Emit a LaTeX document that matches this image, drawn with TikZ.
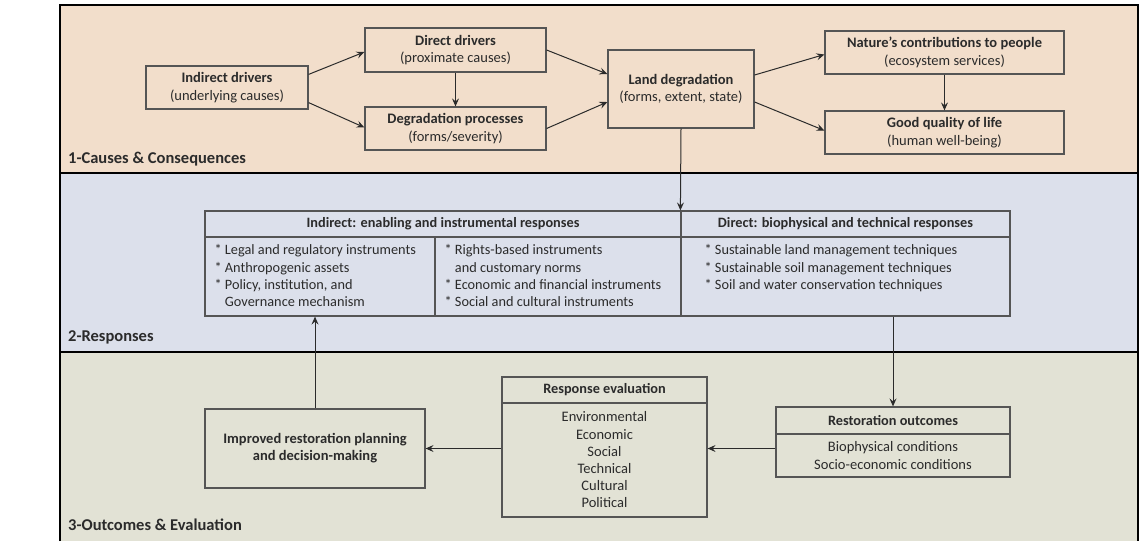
\documentclass[tikz,border=0pt]{standalone}
\usepackage{fontspec}
\setmainfont{Carlito}
\usetikzlibrary{arrows.meta}
\definecolor{peach}{HTML}{F2DECB}
\definecolor{bluegray}{HTML}{DCE0EB}
\definecolor{sage}{HTML}{E2E2D5}
\definecolor{boxline}{HTML}{555555}
\definecolor{ink}{HTML}{2B2B2B}
\begin{document}
\begin{tikzpicture}[x=1pt,y=-1pt,
  box/.style={draw=boxline,line width=1.2pt,text=ink,align=center,inner sep=0pt,font=\fontsize{14.5}{17.5}\selectfont},
  head/.style={box,font=\bfseries\fontsize{14.3}{16}\selectfont},
  list/.style={text=ink,align=left,inner sep=0pt,anchor=north west,font=\fontsize{14.3}{17.3}\selectfont},
  arr/.style={draw=ink,line width=1pt,-{Stealth[length=8pt,width=7pt,inset=3pt]}},
  band/.style={font=\bfseries\fontsize{16.5}{18}\selectfont,text=ink,anchor=west,inner sep=0pt}]
\path[use as bounding box] (0,0) rectangle (1148,541);
\fill[peach] (60,5) rectangle (1138,173);
\fill[bluegray] (60,173) rectangle (1138,352);
\fill[sage] (60,352) rectangle (1138,541);
\draw[line width=2.5pt] (60,541)--(60,5)--(1138,5)--(1138,541);
\draw[line width=2.5pt] (60,173)--(1138,173) (60,352)--(1138,352);
\node[band] (causes) at (68,159) {1-Causes \& Consequences};
\node[band] (responses) at (68,337) {2-Responses};
\node[band] (outcomes) at (68,525) {3-Outcomes \& Evaluation};
\node[box,minimum width=162,minimum height=43] (indirect) at (227,87.5) {\textbf{Indirect drivers}\\(underlying causes)};
\node[box,minimum width=181,minimum height=44] (direct) at (455.5,50) {\textbf{Direct drivers}\\(proximate causes)};
\node[box,minimum width=181,minimum height=43] (degr) at (455.5,128.5) {\textbf{Degradation processes}\\(forms/severity)};
\node[box,minimum width=146,minimum height=78] (land) at (681,89) {\textbf{Land degradation}\\(forms, extent, state)};
\node[box,minimum width=239,minimum height=43] (nature) at (944.5,52.5) {\textbf{Nature’s contributions to people}\\(ecosystem services)};
\node[box,minimum width=239,minimum height=43] (good) at (944.5,132.5) {\textbf{Good quality of life}\\(human well-being)};
\draw[arr] ([yshift=-9pt]indirect.north east) -- ([yshift=-2pt]direct.west);
\draw[arr] ([yshift=7pt]indirect.south east) -- ([yshift=1pt]degr.west);
\draw[arr] (direct.south) -- (degr.north);
\draw[arr] (direct.east) -- ([yshift=15pt]land.west);
\draw[arr] (degr.east) -- ([yshift=-13pt]land.west);
\draw[arr] ([yshift=14pt]land.east) -- ([yshift=-2pt]nature.west);
\draw[arr] ([yshift=-13pt]land.east) -- ([yshift=2pt]good.west);
\draw[arr] (nature.south) -- (good.north);
\node[head,minimum width=476,minimum height=26] (indhead) at (443,224) {Indirect: enabling and instrumental responses};
\node[head,minimum width=329,minimum height=26] (dirhead) at (845.5,224) {Direct: biophysical and technical responses};
\node[box,minimum width=230,minimum height=79] (legalbody) at (320,276.5) {};
\node[box,minimum width=246,minimum height=79] (rightsbody) at (558,276.5) {};
\node[box,minimum width=329,minimum height=79] (techbody) at (845.5,276.5) {};
\node[list] (legallist) at ([xshift=10pt,yshift=-8pt]legalbody.north west) {* Legal and regulatory instruments\\* Anthropogenic assets\\* Policy, institution, and\\\hphantom{*\ }Governance mechanism};
\node[list] (rightslist) at ([xshift=10pt,yshift=-8pt]rightsbody.north west) {* Rights-based instruments\\\hphantom{*\ }and customary norms\\* Economic and financial instruments\\* Social and cultural instruments};
\node[list] (techlist) at ([xshift=24pt,yshift=-8pt]techbody.north west) {* Sustainable land management techniques\\* Sustainable soil management techniques\\* Soil and water conservation techniques};
\draw[arr] (land.south) -- (dirhead.north west);
\node[head,minimum width=234,minimum height=27] (resthead) at (893,420.5) {Restoration outcomes};
\node[box,minimum width=234,minimum height=43] (restbody) at (893,455.5) {Biophysical conditions\\Socio-economic conditions};
\node[head,minimum width=205,minimum height=26] (evalhead) at (604.5,390) {Response evaluation};
\node[box,minimum width=205,minimum height=114,font=\fontsize{14.5}{17.2}\selectfont] (evalbody) at (604.5,460) {Environmental\\Economic\\Social\\Technical\\Cultural\\Political};
\node[box,minimum width=220,minimum height=79,font=\bfseries\fontsize{14.5}{17}\selectfont] (improved) at (315,448.5) {Improved restoration planning\\and decision-making};
\draw[arr] (techbody.south -| resthead.north) -- (resthead.north);
\draw[arr] (restbody.west |- improved.east) -- (evalbody.east |- improved.east);
\draw[arr] (evalbody.west |- improved.east) -- (improved.east);
\draw[arr] (improved.north) -- (improved.north |- legalbody.south);
\end{tikzpicture}
\end{document}
